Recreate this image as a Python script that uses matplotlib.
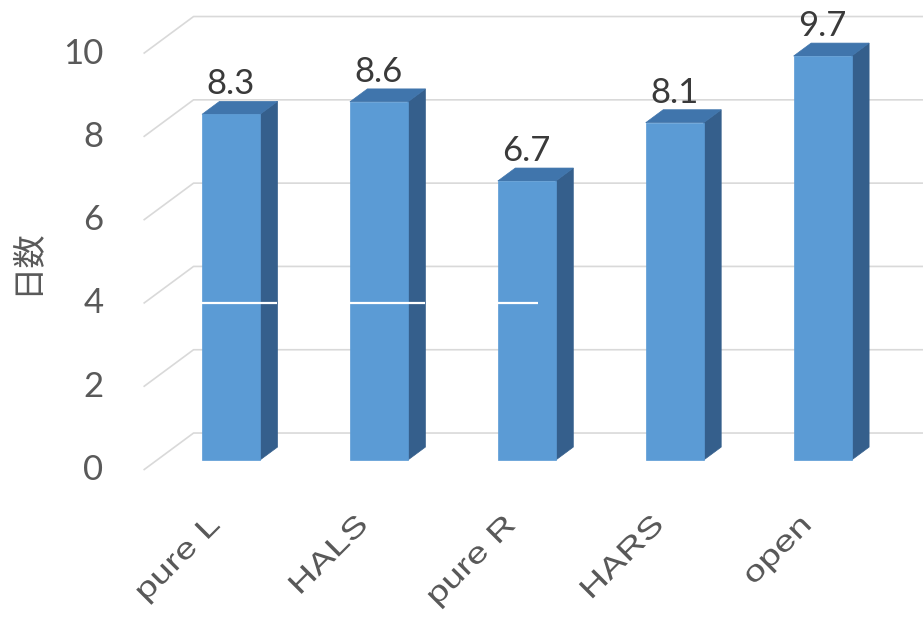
import numpy as np
import matplotlib
matplotlib.use('Agg')
import matplotlib.pyplot as plt
from matplotlib.patches import Polygon
from matplotlib.patheffects import AbstractPathEffect
from matplotlib.transforms import Affine2D

# data
groups = ['pure L', 'HALS', 'pure R', 'HARS', 'open']
days = [8.3, 8.6, 6.7, 8.1, 9.7]
y_ticks = [0, 2, 4, 6, 8, 10]
ylabel = '日数'
# white stroke across the first bars at the level of 4 (fraction of bar covered)
stroke_level = 4
stroke_cover = [1.0, 1.0, 0.55]

# fake 3d: how far one unit of depth moves a point (x in categories, y in values)
DEPTH_DX = 0.338
DEPTH_DY = 0.888
BAR_FRONT = 0.27
BAR_BACK = 0.62
BAR_W = 0.392

FRONT_C = '#5B9BD5'
TOP_C = '#4075AC'
SIDE_C = '#355F8C'
GRID_C = '#D9D9D9'
LABEL_ROT = 45


def proj(x, y, d):
    return x + d * DEPTH_DX, y + d * DEPTH_DY


class WideText(AbstractPathEffect):
    """stretch glyphs along the text direction, right end stays put"""
    def __init__(self, sx, angle):
        super().__init__()
        self.sx = sx
        self.angle = angle

    def draw_path(self, renderer, gc, tpath, affine, rgbFace=None):
        pts = affine.transform(tpath.vertices)
        th = np.deg2rad(self.angle)
        u = np.array([np.cos(th), np.sin(th)])
        s = (pts @ u).max()
        st = (Affine2D().rotate(-th).translate(-s, 0).scale(self.sx, 1)
              .translate(s, 0).rotate(th))
        renderer.draw_path(gc, tpath, affine + st, rgbFace)


fig = plt.figure(figsize=(9.23, 6.2), dpi=100)
ax = fig.add_axes([0, 0, 1, 1])
ax.set_xlim(-1.4706, 4.770)
ax.set_ylim(-3.601, 11.285)
ax.axis('off')

# gridlines: side wall diagonal + back wall
left = -0.5
right = len(groups)
for t in y_ticks:
    x0, y0 = proj(left, t, 0)
    x1, y1 = proj(left, t, 1)
    x2, y2 = proj(right, t, 1)
    ax.plot([x0, x1, x2], [y0, y1, y2], color=GRID_C, lw=1.2, zorder=1,
            solid_capstyle='butt')

# bars
for i, v in enumerate(days):
    l, r = i - BAR_W / 2, i + BAR_W / 2
    front = [proj(l, 0, BAR_FRONT), proj(r, 0, BAR_FRONT),
             proj(r, v, BAR_FRONT), proj(l, v, BAR_FRONT)]
    side = [proj(r, 0, BAR_FRONT), proj(r, 0, BAR_BACK),
            proj(r, v, BAR_BACK), proj(r, v, BAR_FRONT)]
    top = [proj(l, v, BAR_FRONT), proj(r, v, BAR_FRONT),
           proj(r, v, BAR_BACK), proj(l, v, BAR_BACK)]
    ax.add_patch(Polygon(side, closed=True, fc=SIDE_C, ec=SIDE_C, lw=0.5, zorder=3))
    ax.add_patch(Polygon(top, closed=True, fc=TOP_C, ec=TOP_C, lw=0.5, zorder=3))
    ax.add_patch(Polygon(front, closed=True, fc=FRONT_C, ec=FRONT_C, lw=0.5, zorder=4))

    # value label
    cx, cy = proj(i, v, BAR_FRONT)
    ax.annotate(f'{v:.1f}', (cx, cy), xytext=(0, 20), textcoords='offset pixels',
                ha='center', va='baseline', fontsize=25, family='Lato',
                color='#3A3A3A', zorder=6)

# white strokes
for i, c in enumerate(stroke_cover):
    xa, _ = proj(i - BAR_W / 2 - 0.015, 0, BAR_FRONT)
    span = BAR_W + (BAR_BACK - BAR_FRONT) * DEPTH_DX + 0.015
    ax.plot([xa, xa + span * c], [stroke_level, stroke_level], color='white',
            lw=1.6, zorder=5, solid_capstyle='butt')

# y tick labels on the front plane
for t in y_ticks:
    ax.annotate(str(t), (left, t), xytext=(-40, 0), textcoords='offset pixels',
                ha='right', va='center', fontsize=25, family='Lato',
                color='#595959')

ax.annotate(ylabel, (left, 5), xytext=(-118, 0), textcoords='offset pixels',
            ha='center', va='center', rotation=90, fontsize=24,
            family=['Noto Sans CJK JP', 'DejaVu Sans'], color='#595959')

# category labels
for i, g in enumerate(groups):
    ax.annotate(g, (i, 0), xytext=(-12, -41), textcoords='offset pixels',
                ha='right', va='top', rotation=LABEL_ROT, rotation_mode='anchor',
                fontsize=21, family='Liberation Sans', color='#595959',
                path_effects=[WideText(1.3, LABEL_ROT)])

fig.savefig('out.png', dpi=100)
